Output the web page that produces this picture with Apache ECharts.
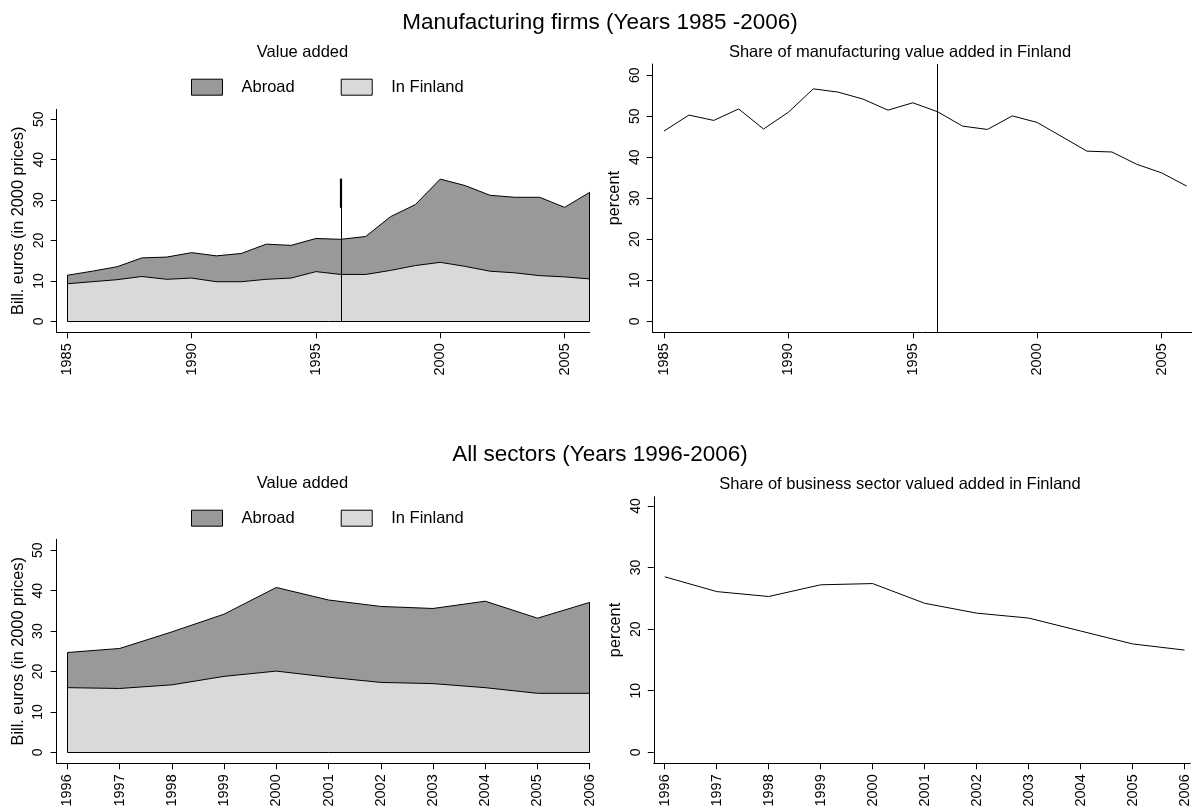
<!DOCTYPE html>
<html>
<head>
<meta charset="utf-8">
<script src="https://cdn.jsdelivr.net/npm/echarts@6/dist/echarts.min.js"></script>
<style>
html,body{margin:0;padding:0;background:#fff;}
#chart{width:1192px;height:810px;}
</style>
</head>
<body>
<div id="chart"></div>
<script>
// ---- Data ----
const mfgYears = [1985,1986,1987,1988,1989,1990,1991,1992,1993,1994,1995,1996,1997,1998,1999,2000,2001,2002,2003,2004,2005,2006];
const mfgTotal = [11.4,12.4,13.5,15.7,15.9,17.0,16.2,16.8,19.1,18.8,20.5,20.3,21.0,25.9,28.9,35.2,33.6,31.2,30.7,30.7,28.2,31.9];
const mfgFinland = [9.3,9.8,10.3,11.1,10.4,10.7,9.8,9.8,10.4,10.7,12.3,11.6,11.6,12.6,13.8,14.6,13.6,12.4,12.0,11.3,11.0,10.5];
const mfgShare = [46.4,50.3,49.0,51.8,46.9,51.0,56.7,55.9,54.2,51.5,53.3,51.1,47.6,46.8,50.1,48.5,45.0,41.5,41.3,38.3,36.2,33.0];
const mfgMarkerYear = 1996;
const mfgMarkerTop = 35.3;
const mfgMarkerThickFrom = 28.1;

const allYears = [1996,1997,1998,1999,2000,2001,2002,2003,2004,2005,2006];
const allTotal = [24.7,25.7,29.8,34.2,40.8,37.7,36.1,35.6,37.4,33.2,37.1];
const allFinland = [16.0,15.8,16.7,18.8,20.1,18.6,17.3,17.0,16.0,14.6,14.6];
const allShare = [28.5,26.1,25.3,27.2,27.4,24.2,22.6,21.8,19.7,17.6,16.6];

const mfgXTicks = [1985,1990,1995,2000,2005];
const allXTicks = [1996,1997,1998,1999,2000,2001,2002,2003,2004,2005,2006];
const valueYTicks = [0,10,20,30,40,50];
const mfgShareYTicks = [0,10,20,30,40,50,60];
const allShareYTicks = [0,10,20,30,40];

const legendNames = ['Abroad','In Finland'];
const titles = {
  top: 'Manufacturing firms (Years 1985 -2006)',
  bottom: 'All sectors (Years 1996-2006)',
  valueAdded: 'Value added',
  mfgShare: 'Share of manufacturing value added in Finland',
  allShare: 'Share of business sector valued added in Finland',
  yValue: 'Bill. euros (in 2000 prices)',
  yShare: 'percent'
};

// ---- Styling ----
const FONT = '"Liberation Sans", Arial, sans-serif';
const DARK = '#999999';
const LIGHT = '#d9d9d9';
const INK = '#000000';

function pairs(xs, ys){ return xs.map((x,i)=>[x, ys[i]]); }

function xAxis(gridIndex, min, max, ticks){
  return {
    type:'value', gridIndex, min, max,
    axisLine:{show:true, onZero:false, lineStyle:{color:INK, width:1}},
    axisTick:{show:true, length:6, lineStyle:{color:INK, width:1}, customValues:ticks},
    axisLabel:{show:true, rotate:90, margin:11, fontSize:14.5, fontFamily:FONT, color:INK,
      customValues:ticks, formatter:(v)=>String(v)},
    splitLine:{show:false}
  };
}
function yAxis(gridIndex, min, max, ticks, name){
  return {
    type:'value', gridIndex, min, max,
    name, nameLocation:'middle', nameGap:30, nameRotate:90,
    nameTextStyle:{fontSize:16.3, fontFamily:FONT, color:INK},
    axisLine:{show:true, onZero:false, lineStyle:{color:INK, width:1}},
    axisTick:{show:true, length:6, lineStyle:{color:INK, width:1}, customValues:ticks},
    axisLabel:{show:true, rotate:90, margin:11, fontSize:14, fontFamily:FONT, color:INK,
      customValues:ticks, formatter:(v)=>String(v)},
    splitLine:{show:false}
  };
}

function outline(xs, tops){
  const x0 = xs[0], x1 = xs[xs.length-1];
  return [
    [{coord:[x0,0]},{coord:[x0,tops[0]]}],
    [{coord:[x1,0]},{coord:[x1,tops[tops.length-1]]}],
    [{coord:[x0,0]},{coord:[x1,0]}]
  ];
}

function areaPair(idx, xs, total, fin, extraLines){
  return [
    {
      name:legendNames[0], type:'line', xAxisIndex:idx, yAxisIndex:idx,
      data:pairs(xs,total), symbol:'none', smooth:false,
      itemStyle:{color:DARK},
      lineStyle:{color:INK, width:1},
      areaStyle:{color:DARK, opacity:1, origin:'auto'},
      z:2
    },
    {
      name:legendNames[1], type:'line', xAxisIndex:idx, yAxisIndex:idx,
      data:pairs(xs,fin), symbol:'none', smooth:false,
      itemStyle:{color:LIGHT},
      lineStyle:{color:INK, width:1},
      areaStyle:{color:LIGHT, opacity:1, origin:'auto'},
      z:3,
      markLine:{
        silent:true, symbol:['none','none'], label:{show:false},
        lineStyle:{color:INK, type:'solid', width:1},
        animation:false,
        data: outline(xs,total).concat(extraLines || [])
      }
    }
  ];
}

function legend(top){
  return {
    left:191, top, orient:'horizontal', padding:0,
    icon:'rect', itemWidth:31, itemHeight:16, itemGap:46,
    selectedMode:false,
    textStyle:{fontSize:16.5, fontFamily:FONT, color:INK, padding:[0,0,0,14]},
    data:[
      {name:legendNames[0], itemStyle:{color:DARK, borderColor:INK, borderWidth:1}},
      {name:legendNames[1], itemStyle:{color:LIGHT, borderColor:INK, borderWidth:1}}
    ]
  };
}

function txt(x, y, text, size){
  return {type:'text', x, y, silent:true,
    style:{text, fontSize:size, fontFamily:FONT, fill:INK, align:'center', verticalAlign:'middle'}};
}

const option = {
  animation:false,
  backgroundColor:'#ffffff',
  grid:[
    {left:56.7, top:109.3, width:533, height:223},
    {left:652.7, top:64, width:539.3, height:268.3},
    {left:56.6, top:539.3, width:533.1, height:224},
    {left:653.8, top:496.7, width:538.2, height:266.6}
  ],
  xAxis:[
    xAxis(0, 1984.574, 2006.01, mfgXTicks),
    xAxis(1, 1984.546, 2006.22, mfgXTicks),
    xAxis(2, 1995.793, 2006.0, allXTicks),
    xAxis(3, 1995.79, 2006.11, allXTicks)
  ],
  yAxis:[
    yAxis(0, -2.72, 52.48, valueYTicks, titles.yValue),
    yAxis(1, -2.68, 62.76, mfgShareYTicks, titles.yShare),
    yAxis(2, -2.72, 52.72, valueYTicks, titles.yValue),
    yAxis(3, -1.79, 41.51, allShareYTicks, titles.yShare)
  ],
  legend:[ legend(78.7), legend(509.7) ],
  series:[
    ...areaPair(0, mfgYears, mfgTotal, mfgFinland, [
      [{coord:[mfgMarkerYear,0]},{coord:[mfgMarkerYear,mfgMarkerTop]}],
      [{coord:[mfgMarkerYear,mfgMarkerThickFrom], lineStyle:{width:2.2}},{coord:[mfgMarkerYear,mfgMarkerTop]}]
    ]),
    {
      name:'mfgShare', type:'line', xAxisIndex:1, yAxisIndex:1,
      data:pairs(mfgYears, mfgShare), symbol:'none',
      lineStyle:{color:INK, width:1}, itemStyle:{color:INK},
      markLine:{silent:true, symbol:['none','none'], label:{show:false},
        lineStyle:{color:INK, type:'solid', width:1}, animation:false,
        data:[{xAxis:mfgMarkerYear}]}
    },
    ...areaPair(2, allYears, allTotal, allFinland),
    {
      name:'allShare', type:'line', xAxisIndex:3, yAxisIndex:3,
      data:pairs(allYears, allShare), symbol:'none',
      lineStyle:{color:INK, width:1}, itemStyle:{color:INK}
    }
  ],
  graphic:[
    txt(600, 23, titles.top, 22.5),
    txt(600, 455, titles.bottom, 22.5),
    txt(302.5, 52, titles.valueAdded, 16.5),
    txt(302.5, 483.3, titles.valueAdded, 16.5),
    txt(900, 52, titles.mfgShare, 16.5),
    txt(900, 484, titles.allShare, 16.5)
  ]
};

const chart = echarts.init(document.getElementById('chart'), null, {renderer:'canvas'});
chart.setOption(option);
</script>
</body>
</html>
